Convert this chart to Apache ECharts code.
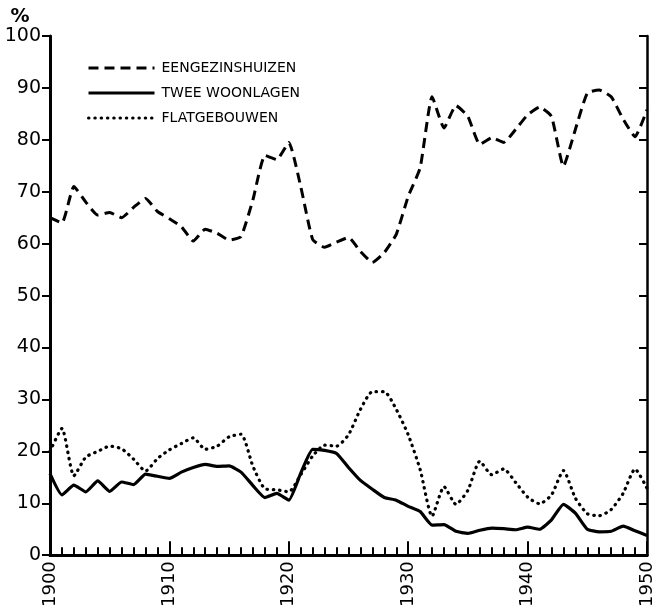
<!DOCTYPE html>
<html>
<head>
<meta charset="utf-8" />
<script src="https://cdn.jsdelivr.net/npm/echarts@6/dist/echarts.min.js"></script>
<style>
  html, body { margin: 0; padding: 0; background: #fff; }
  #chart { width: 657px; height: 610px; }
</style>
</head>
<body>
<div id="chart"></div>
<script>
// jaartallen (x-as)
const years = [
  1900, 1901, 1902, 1903, 1904, 1905, 1906, 1907, 1908, 1909,
  1910, 1911, 1912, 1913, 1914, 1915, 1916, 1917, 1918, 1919,
  1920, 1921, 1922, 1923, 1924, 1925, 1926, 1927, 1928, 1929,
  1930, 1931, 1932, 1933, 1934, 1935, 1936, 1937, 1938, 1939,
  1940, 1941, 1942, 1943, 1944, 1945, 1946, 1947, 1948, 1949,
  1950
];
const seriesNames = ["EENGEZINSHUIZEN", "TWEE WOONLAGEN", "FLATGEBOUWEN"];
const eengezinshuizen = [
  65, 64, 71, 68, 65.5, 66, 65, 67, 68.7, 66.2,
  64.8, 63.3, 60.5, 62.8, 62, 60.7, 61.4, 68.5, 77, 76.2,
  79.5, 71, 60.8, 59.3, 60.3, 61.2, 58.5, 56.4, 58.3, 61.8,
  69.1, 74.6, 88.3, 82.3, 86.6, 84.5, 79.1, 80.4, 79.5, 82,
  84.8, 86.3, 84.5, 74.9, 82, 89, 89.6, 88.3, 84, 80.6,
  85.8
];
const tweeWoonlagen = [
  15.7, 11.6, 13.5, 12.2, 14.3, 12.3, 14.1, 13.6, 15.6, 15.2,
  14.8, 16, 16.9, 17.5, 17.1, 17.2, 16, 13.4, 11.1, 11.9,
  10.6, 15.8, 20.4, 20.2, 19.6, 16.9, 14.4, 12.7, 11.1, 10.6,
  9.4, 8.4, 5.8, 5.9, 4.6, 4.2, 4.8, 5.2, 5.1, 4.9,
  5.4, 5, 6.8, 9.8, 8.1, 5, 4.5, 4.6, 5.6, 4.7,
  3.8
];
const flatgebouwen = [
  20, 24.4, 15.3, 18.9, 20, 21, 20.5, 18.5, 16.2, 18.6,
  20.3, 21.5, 22.6, 20.4, 21, 22.8, 23.3, 17.1, 12.8, 12.6,
  12.2, 15.5, 19.1, 21.2, 21, 23.2, 28.1, 31.5, 31.5, 28.1,
  23.2, 16.5, 7.5, 13.2, 9.8, 12.5, 18.1, 15.5, 16.6, 14,
  11.2, 9.9, 11.6, 16.3, 11, 8, 7.6, 8.8, 11.9, 16.6,
  12.9
];

const font = "DejaVu Sans";

function pairs(values) {
  return years.map((y, i) => [y, values[i]]);
}

const chart = echarts.init(document.getElementById("chart"), null, { renderer: "canvas" });
const option = {
  animation: false,
  backgroundColor: "#fff",
  grid: { left: 50, right: 10, top: 36, bottom: 53 },
  legend: {
    orient: "vertical",
    left: 82,
    top: 56,
    itemWidth: 66,
    itemHeight: 14,
    itemGap: 11,
    itemStyle: { opacity: 0 }, // geen bolletje in de legenda
    lineStyle: { width: 3 },
    textStyle: { color: "#000", fontFamily: font, fontSize: 14, padding: [0, 0, 0, 2] },
    data: seriesNames
  },
  xAxis: [
    {
      type: "value",
      min: 1900,
      max: 1950,
      interval: 10,
      axisLine: { lineStyle: { color: "#000", width: 3 } },
      axisTick: { inside: true, length: 14, lineStyle: { color: "#000", width: 2 } },
      minorTick: { show: true, splitNumber: 10, length: 8, lineStyle: { color: "#000", width: 2 } },
      axisLabel: {
        rotate: 90,
        margin: 6,
        color: "#000",
        fontFamily: font,
        fontSize: 18,
        formatter: (v) => String(v)
      },
      splitLine: { show: false }
    },
    {
      type: "value",
      position: "top",
      min: 1900,
      max: 1950,
      axisLine: { show: true, lineStyle: { color: "#000", width: 2.5 } },
      axisTick: { show: false },
      axisLabel: { show: false },
      splitLine: { show: false }
    }
  ],
  yAxis: [
    {
      type: "value",
      min: 0,
      max: 100,
      interval: 10,
      name: "%",
      nameLocation: "end",
      nameGap: 8,
      nameTextStyle: { color: "#000", fontFamily: font, fontSize: 19, fontWeight: "bold", align: "center", padding: [0, 0, 0, -60] },
      axisLine: { show: true, lineStyle: { color: "#000", width: 3 } },
      axisTick: { show: true, length: 8, lineStyle: { color: "#000", width: 2 } },
      axisLabel: { color: "#000", fontFamily: font, fontSize: 19, margin: 9 },
      splitLine: { show: false }
    },
    {
      type: "value",
      position: "right",
      min: 0,
      max: 100,
      interval: 10,
      axisLine: { show: true, lineStyle: { color: "#000", width: 2.5 } },
      axisTick: { show: true, inside: true, length: 8, lineStyle: { color: "#000", width: 2 } },
      axisLabel: { show: false },
      splitLine: { show: false }
    }
  ],
  series: [
    {
      name: seriesNames[0],
      type: "line",
      data: pairs(eengezinshuizen),
      symbol: "none",
      smooth: 0.15,
      lineStyle: { color: "#000", width: 3, type: [10, 6] },
      itemStyle: { color: "#000" }
    },
    {
      name: seriesNames[1],
      type: "line",
      data: pairs(tweeWoonlagen),
      symbol: "none",
      smooth: 0.15,
      lineStyle: { color: "#000", width: 3.2, type: "solid" },
      itemStyle: { color: "#000" }
    },
    {
      name: seriesNames[2],
      type: "line",
      data: pairs(flatgebouwen),
      symbol: "none",
      smooth: 0.2,
      lineStyle: { color: "#000", width: 3.2, type: [0.5, 5.8], cap: "round" },
      itemStyle: { color: "#000" }
    }
  ]
};
chart.setOption(option);
</script>
</body>
</html>
